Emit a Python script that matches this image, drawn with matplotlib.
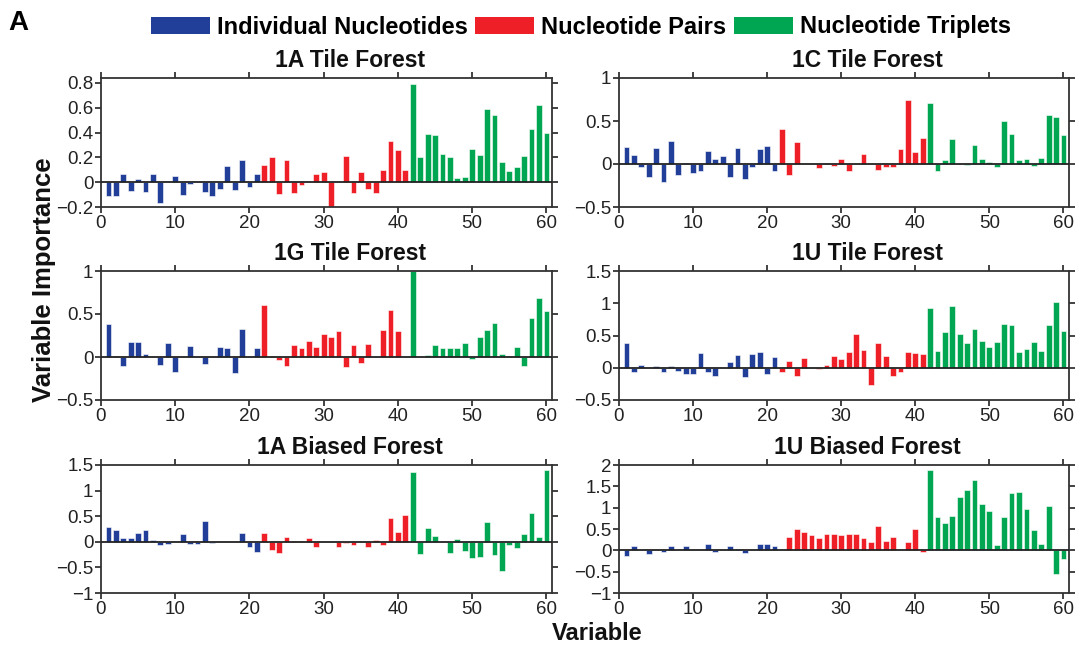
import matplotlib
matplotlib.use("Agg")
import matplotlib.pyplot as plt
from matplotlib.patches import Patch
from matplotlib.ticker import FuncFormatter
import numpy as np

plt.rcParams['font.family'] = ['Liberation Sans', 'DejaVu Sans']
plt.rcParams['axes.unicode_minus'] = True

group_labels = ["Individual Nucleotides", "Nucleotide Pairs", "Nucleotide Triplets"]
group_sizes = [21, 20, 19]
group_colors = ["#213f98", "#ee1f26", "#00a651"]

a_tile = [-0.11, -0.11, 0.065, -0.073, 0.027, -0.08, 0.065, -0.17, 0.0, 0.05,
          -0.1, -0.015, 0.0, -0.08, -0.11, -0.055, 0.13, -0.065, 0.18, -0.035, 0.07,
          0.135, 0.2, -0.095, 0.18, -0.09, -0.02, 0.0, 0.07, 0.08,
          -0.21, 0.0, 0.21, -0.09, 0.085, -0.057, -0.085, 0.1, 0.33, 0.26, 0.1,
          0.79, 0.2, 0.39, 0.38, 0.23, 0.2, 0.03, 0.043, 0.27,
          0.22, 0.59, 0.54, 0.16, 0.09, 0.12, 0.21, 0.43, 0.62, 0.4]
c_tile = [0.2, 0.11, -0.04, -0.15, 0.19, -0.21, 0.27, -0.13, 0.01, -0.1,
          -0.08, 0.15, 0.06, 0.09, -0.15, 0.19, -0.17, -0.03, 0.18, 0.21, -0.08,
          0.41, -0.13, 0.26, 0.0, 0.0, -0.045, 0.015, -0.02, 0.06,
          -0.08, 0.0, 0.12, 0.0, -0.07, -0.03, -0.03, 0.18, 0.74, 0.14, 0.3,
          0.71, -0.08, 0.05, 0.29, 0.0, -0.01, 0.22, 0.06, 0.02,
          -0.04, 0.5, 0.35, 0.05, 0.06, -0.02, 0.065, 0.57, 0.55, 0.34]
g_tile = [0.38, 0.015, -0.1, 0.17, 0.17, 0.03, 0.0, -0.09, 0.16, -0.17,
          0.0, 0.13, 0.005, -0.08, 0.005, 0.12, 0.11, -0.19, 0.33, 0.0, 0.11,
          0.61, 0.015, -0.04, -0.11, 0.14, 0.1, 0.19, 0.12, 0.27,
          0.23, 0.3, -0.12, 0.14, -0.065, 0.155, 0.0, 0.31, 0.55, 0.3, 0.0,
          1.0, 0.0, 0.025, 0.135, 0.1, 0.1, 0.11, 0.16, -0.02,
          0.23, 0.31, 0.39, 0.035, 0.015, 0.12, -0.1, 0.45, 0.69, 0.54]
u_tile = [0.385, -0.06, 0.035, 0.0, 0.02, -0.07, 0.02, -0.055, -0.095, -0.095,
          0.23, -0.07, -0.13, 0.0, 0.085, 0.2, -0.14, 0.22, 0.24, -0.095, 0.17,
          -0.06, 0.11, -0.13, 0.155, 0.0, -0.025, 0.035, 0.18, 0.14,
          0.25, 0.53, 0.28, -0.27, 0.38, 0.185, -0.13, -0.06, 0.24, 0.225, 0.215,
          0.92, 0.26, 0.56, 0.96, 0.52, 0.385, 0.6, 0.415, 0.32,
          0.4, 0.68, 0.66, 0.25, 0.29, 0.4, 0.26, 0.67, 1.02, 0.575]
a_biased = [0.28, 0.24, 0.08, 0.08, 0.17, 0.23, 0.04, -0.065, -0.04, 0.0,
            0.16, -0.04, -0.045, 0.415, -0.03, 0.0, 0.005, 0.0, 0.175, -0.1, -0.2,
            0.175, -0.155, -0.215, 0.1, 0.01, 0.01, 0.065, -0.1, -0.01,
            0.0, -0.1, -0.02, -0.06, 0.0, -0.1, 0.04, -0.07, 0.47, 0.195, 0.53,
            1.37, -0.23, 0.26, 0.11, 0.0, -0.215, 0.06, -0.18, -0.32,
            -0.3, 0.38, -0.25, -0.58, -0.06, -0.13, 0.155, 0.56, 0.085, 1.4]
u_biased = [-0.14, 0.09, 0.0, -0.085, 0.0, -0.045, 0.09, 0.0, 0.1, 0.0,
            0.0, 0.155, -0.03, 0.0, 0.09, 0.02, -0.055, 0.0, 0.155, 0.14, 0.11,
            0.0, 0.32, 0.49, 0.42, 0.37, 0.3, 0.39, 0.38, 0.36,
            0.38, 0.38, 0.3, 0.19, 0.58, 0.22, 0.32, 0.0, 0.19, 0.49, -0.03,
            1.88, 0.79, 0.63, 0.81, 1.25, 1.41, 1.66, 1.09, 0.92,
            0.12, 0.79, 1.35, 1.37, 0.97, 0.48, 0.16, 1.03, -0.56, -0.21]

panel_titles = ["1A Tile Forest", "1C Tile Forest", "1G Tile Forest",
                "1U Tile Forest", "1A Biased Forest", "1U Biased Forest"]
panel_values = [a_tile, c_tile, g_tile, u_tile, a_biased, u_biased]
panel_ylims = [(-0.2, 0.84), (-0.5, 1.0), (-0.5, 1.0), (-0.5, 1.5), (-1.0, 1.5), (-1.0, 2.0)]
panel_yticks = [[-0.2, 0, 0.2, 0.4, 0.6, 0.8], [-0.5, 0, 0.5, 1], [-0.5, 0, 0.5, 1],
                [-0.5, 0, 0.5, 1, 1.5], [-1, -0.5, 0, 0.5, 1, 1.5],
                [-1, -0.5, 0, 0.5, 1, 1.5, 2]]
x_ticks = [0, 10, 20, 30, 40, 50, 60]

W, H = 1078, 650
fig = plt.figure(figsize=(W / 100, H / 100), dpi=100)

col_px = [(101, 552), (619, 1069)]
row_px = [(78, 207), (271, 400), (465, 593)]

bar_colors = []
for c, n in zip(group_colors, group_sizes):
    bar_colors += [c] * n

def fmt(v, pos):
    s = "%g" % v
    return s.replace("-", "\u2212")

for i, (title, vals) in enumerate(zip(panel_titles, panel_values)):
    r, c = divmod(i, 2)
    x0, x1 = col_px[c]
    y0, y1 = row_px[r]
    ax = fig.add_axes([x0 / W, 1 - y1 / H, (x1 - x0) / W, (y1 - y0) / H])
    x = np.arange(1, len(vals) + 1)
    ax.bar(x, vals, width=0.78, color=bar_colors, edgecolor="#ffffff", linewidth=0.4,
           zorder=2)
    ax.axhline(0, color="#222222", linewidth=1.3, zorder=3)
    ax.set_xlim(0, 60.75)
    ax.set_ylim(*panel_ylims[i])
    ax.set_yticks(panel_yticks[i])
    ax.set_xticks(x_ticks)
    ax.yaxis.set_major_formatter(FuncFormatter(fmt))
    ax.tick_params(direction="out", length=4, width=1.2, labelsize=13.5,
                   top=True, right=True, labeltop=False, labelright=False,
                   pad=1.5, colors="#222222")
    for sp in ax.spines.values():
        sp.set_linewidth(1.3)
        sp.set_color("#333333")
    ax.text(0.553, 1.085, title, transform=ax.transAxes, ha="center", va="baseline",
            fontsize=16.5, fontweight="bold", color="#111111")

handles = [Patch(facecolor=col, edgecolor="none") for col in group_colors]
fig.legend(handles, group_labels, loc="center", bbox_to_anchor=(581 / W, 1 - 27 / H),
           ncol=3, frameon=False, prop={"size": 17, "weight": "bold"},
           handlelength=2.5, handleheight=0.75, handletextpad=0.3,
           columnspacing=0.3, borderpad=0, borderaxespad=0)

fig.text(8 / W, 1 - 30 / H, "A", fontsize=20, fontweight="bold", va="baseline")
fig.text(44 / W, 1 - 280 / H, "Variable Importance", rotation=90, ha="center",
         va="center", fontsize=18.5, fontweight="bold", color="#111111")
fig.text(597 / W, 1 - 634 / H, "Variable", ha="center", va="center",
         fontsize=17, fontweight="bold", color="#111111")

fig.savefig("out.png", dpi=100)
